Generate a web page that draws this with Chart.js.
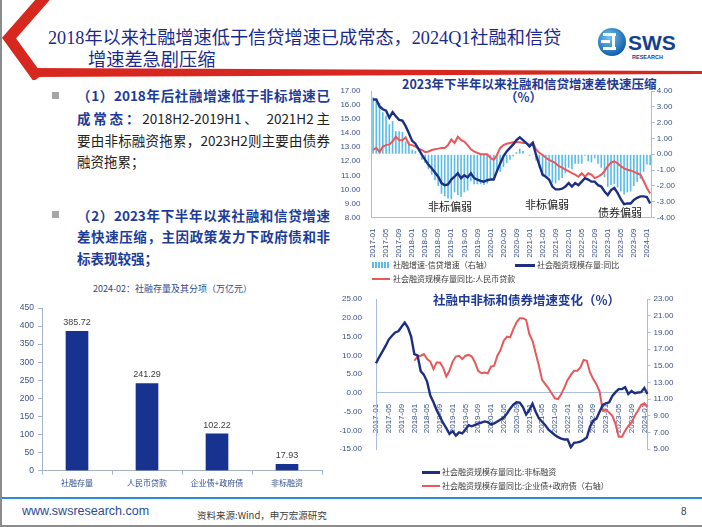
<!DOCTYPE html>
<html lang="zh-CN">
<head>
<meta charset="utf-8">
<title>社融与信贷增速差</title>
<script src="https://cdn.jsdelivr.net/npm/chart.js@4.4.1/dist/chart.umd.min.js"></script>
<style>
  html, body { margin: 0; padding: 0; background: #fff; }
  #slide { position: relative; width: 702px; height: 527px; overflow: hidden; background: #fff;
    font-family: "Noto Sans CJK SC", "Liberation Sans", sans-serif; }
  .abs { position: absolute; white-space: nowrap; }
  canvas { position: absolute; }
  .title { font-family: "Liberation Serif", "Noto Sans CJK SC", serif; font-size: 18.2px; line-height: 22px; color: #1b2a8a; }
  .line { position: absolute; left: 77px; width: 253px; font-size: 13.5px; line-height: 22px; color: #222;
    text-align: justify; text-align-last: justify; }
  .line.last { text-align-last: left; }
  .b { color: #1d3c98; font-weight: bold; }
  .bullet { position: absolute; left: 52px; width: 7px; height: 7px; background: #a6a6a6; }
  .ctitle { font-weight: bold; color: #1f3a93; font-size: 12.5px; line-height: 14px; }
  .leg { font-size: 8px; line-height: 10px; color: #3a3a3a; }
  .swatch { position: absolute; }
  .note { font-size: 11px; line-height: 12px; color: #1a1a1a; }
</style>
</head>
<body>
<div id="slide">
  <!-- header decoration -->
  <svg class="abs" style="left:0;top:0" width="702" height="80">
    <polyline points="46,-4 9,38 38,78" fill="none" stroke="#d7281f" stroke-width="11"/>
    <polygon points="30,68 702,71 702,74 30,77" fill="#d7281f"/>
    <defs>
      <radialGradient id="lg" cx="40%" cy="35%" r="70%">
        <stop offset="0%" stop-color="#6fc6f2"/>
        <stop offset="100%" stop-color="#0b56a8"/>
      </radialGradient>
    </defs>
    <circle cx="612" cy="42" r="14" fill="url(#lg)"/>
    <rect x="603" y="33" width="13" height="3" fill="#fff"/>
    <rect x="601" y="40" width="9" height="3" fill="#fff"/>
    <rect x="603" y="47" width="13" height="3" fill="#fff"/>
    <rect x="612" y="36" width="3" height="11" fill="#fff"/>
    <text x="628" y="50" font-family="Liberation Sans, sans-serif" font-weight="bold" font-size="21" fill="#15408f">SWS</text>
    <text x="632" y="59" font-family="Liberation Sans, sans-serif" font-weight="bold" font-size="5.5" fill="#15408f">RESEARCH</text>
  </svg>

  <div class="abs title" style="left:48px;top:27px;">2018年以来社融增速低于信贷增速已成常态，2024Q1社融和信贷</div>
  <div class="abs title" style="left:88px;top:49px;">增速差急剧压缩</div>

  <!-- bullets -->
  <div class="bullet" style="top:92px;"></div>
  <div class="line" style="top:84px;"><span class="b">（1）2018年后社融增速低于非标增速已</span></div>
  <div class="line" style="top:107px;"><span class="b">成常态：</span>2018H2-2019H1、 2021H2主</div>
  <div class="line" style="top:129px;">要由非标融资拖累，2023H2则主要由债券</div>
  <div class="line last" style="top:150px;">融资拖累；</div>
  <div class="bullet" style="top:211px;"></div>
  <div class="line b" style="top:204px;">（2）2023年下半年以来社融和信贷增速</div>
  <div class="line b" style="top:225px;">差快速压缩，主因政策发力下政府债和非</div>
  <div class="line b last" style="top:247px;">标表现较强；</div>

  <!-- bar chart -->
  <div class="abs" style="left:93px;top:283px;font-size:9px;line-height:12px;color:#2c4c8c;">2024-02：社融存量及其分项（万亿元）</div>
  <canvas id="barChart" width="335" height="200" style="left:0;top:295px;"></canvas>

  <!-- top right chart -->
  <div class="abs ctitle" style="left:402px;top:77px;">2023年下半年以来社融和信贷增速差快速压缩</div>
  <div class="abs ctitle" style="left:505px;top:90px;">（%）</div>
  <canvas id="gapChart" width="362" height="180" style="left:340px;top:80px;"></canvas>
  <div class="abs note" style="left:428px;top:200px;">非标偏弱</div>
  <div class="abs note" style="left:525px;top:198px;">非标偏弱</div>
  <div class="abs note" style="left:598px;top:206px;">债券偏弱</div>
  <div class="swatch" style="left:372px;top:262px;width:18px;height:6px;background:repeating-linear-gradient(90deg,#5bbde8 0 1.5px,#fff 1.5px 3px);"></div>
  <div class="abs leg" style="left:393px;top:260px;">社融增速-信贷增速（右轴）</div>
  <div class="swatch" style="left:515px;top:264px;width:20px;height:2.5px;background:#1c2f80;"></div>
  <div class="abs leg" style="left:537px;top:260px;">社会融资规模存量:同比</div>
  <div class="swatch" style="left:372px;top:278px;width:18px;height:2px;background:#e8585a;"></div>
  <div class="abs leg" style="left:393px;top:274px;">社会融资规模存量同比:人民币贷款</div>

  <!-- bottom right chart -->
  <div class="abs ctitle" style="left:433px;top:293px;">社融中非标和债券增速变化（%）</div>
  <canvas id="bondChart" width="362" height="172" style="left:340px;top:288px;"></canvas>
  <div class="swatch" style="left:422px;top:471px;width:18px;height:2.5px;background:#1c2f80;"></div>
  <div class="abs leg" style="left:442px;top:467px;">社会融资规模存量同比:非标融资</div>
  <div class="swatch" style="left:422px;top:485px;width:18px;height:2px;background:#e8585a;"></div>
  <div class="abs leg" style="left:442px;top:481px;">社会融资规模存量同比:企业债+政府债（右轴）</div>

  <!-- footer -->
  <div class="abs" style="left:0;top:497px;width:702px;height:2px;background:#2a8fd0;"></div>
  <div class="abs" style="left:22px;top:503px;font-family:'Liberation Sans',sans-serif;font-size:12.5px;line-height:16px;color:#2a4b9b;">www.swsresearch.com</div>
  <div class="abs" style="left:197px;top:509px;font-size:9.5px;line-height:12px;color:#404040;">资料来源:Wind，申万宏源研究</div>
  <div class="abs" style="left:681px;top:506px;font-family:'Liberation Sans',sans-serif;font-size:10px;line-height:12px;color:#404040;">8</div>
  <div class="abs" style="left:0;top:0;width:2px;height:527px;background:#8c8c8c;"></div>
  <div class="abs" style="left:0;top:525px;width:702px;height:2px;background:#8c8c8c;"></div>
</div>

<script>
// ---- data ----
const barCats = ['社融存量', '人民币贷款', '企业债+政府债', '非标融资'];
const barVals = [385.72, 241.29, 102.22, 17.93];

// monthly categories 2017-01 .. 2024-02
const months = [];
for (let y = 2017; y <= 2024; y++) {
  for (let m = 1; m <= 12; m++) {
    if (y === 2024 && m > 2) break;
    months.push(y + '-' + String(m).padStart(2, '0'));
  }
}

// 社会融资规模存量:同比 (left axis)
const tsfYoy = [
  16.4, 16.4, 15.9, 15.7, 15.6, 15.1, 15.5, 15.2, 14.95, 14.9, 14.5, 14.0,
  13.45, 13.25, 12.85, 12.45, 12.1, 11.75, 11.5, 11.2, 10.9, 10.45, 10.3, 10.35,
  10.7, 10.9, 11.15, 10.8, 11.0, 10.85, 11.15, 10.8, 10.7, 10.6, 10.55, 10.65,
  10.7, 10.7, 11.3, 11.85, 12.35, 12.7, 12.95, 13.2, 13.5, 13.7, 13.5, 13.3,
  13.05, 13.3, 12.45, 11.75, 11.05, 10.9, 10.7, 10.2, 10.0, 10.0, 10.05, 10.2,
  10.45, 10.2, 10.45, 10.3, 10.55, 10.8, 10.7, 10.55, 10.55, 10.3, 10.2, 9.85,
  9.6, 9.95, 10.1, 9.75, 9.3, 8.95, 9.0, 9.0, 9.25, 9.4, 9.5, 9.5,
  9.45, 9.0
];
// 社会融资规模存量同比:人民币贷款 (left axis)
const loanYoy = [
  12.8, 12.95, 12.65, 13.05, 13.15, 13.2, 13.4, 13.75, 13.5, 13.5, 13.7, 13.2,
  13.15, 13.05, 12.9, 12.8, 12.65, 12.7, 12.8, 12.85, 12.9, 12.95, 12.95, 13.15,
  13.55, 13.3, 13.75, 13.5, 13.4, 13.15, 12.85, 12.7, 12.6, 12.5, 12.5, 12.5,
  12.25, 12.1, 12.45, 12.95, 13.15, 13.25, 13.3, 13.35, 13.35, 13.35, 13.3, 13.3,
  13.15, 13.35, 12.85, 12.6, 12.45, 12.25, 12.1, 12.0, 11.85, 11.65, 11.55, 11.4,
  11.3, 11.15, 11.05, 10.9, 11.15, 10.9, 11.15, 11.05, 10.8, 10.9, 11.05, 11.3,
  11.65, 11.9, 12.0, 11.85, 11.65, 11.5, 11.4, 11.35, 11.25, 11.15, 11.05, 10.6,
  10.1, 9.7
];
// 社融增速-信贷增速 (right axis)
const gapVals = [
  3.6, 3.45, 3.25, 2.65, 2.45, 1.9, 2.1, 1.45, 1.45, 1.4, 0.8, 0.8,
  0.3, 0.2, -0.05, -0.35, -0.55, -0.95, -1.3, -1.65, -2.0, -2.5, -2.65, -2.8,
  -2.85, -2.4, -2.6, -2.7, -2.4, -2.3, -1.7, -1.9, -1.9, -1.9, -1.95, -1.85,
  -1.55, -1.4, -1.15, -1.1, -0.8, -0.55, -0.35, -0.15, 0.15, 0.35, 0.2, 0.0,
  -0.1, -0.05, -0.4, -0.85, -1.4, -1.35, -1.4, -1.8, -1.85, -1.65, -1.5, -1.2,
  -0.85, -0.95, -0.6, -0.6, -0.6, -0.1, -0.45, -0.5, -0.25, -0.6, -0.85, -1.45,
  -2.05, -1.95, -1.9, -2.1, -2.35, -2.55, -2.4, -2.35, -2.0, -1.75, -1.55, -1.1,
  -0.65, -0.7
];

// 社会融资规模存量同比:非标融资 (left axis)
const nonStdYoy = [
  7.9, 9.5, 11.0, 12.5, 14.2, 15.2, 16.1, 16.4, 17.6, 18.7, 17.4, 15.0,
  10.3, 10.0, 5.8, 4.8, 3.0, -0.7, -2.5, -4.6, -6.3, -8.0, -9.4, -10.9,
  -10.2, -11.4, -10.5, -10.8, -9.8, -8.6, -8.9, -8.5, -8.2, -7.9, -7.6, -7.8,
  -8.4, -8.1, -7.6, -7.1, -6.6, -5.5, -4.2, -3.1, -2.5, -2.6, -3.8, -5.8,
  -4.6, -2.9, -5.0, -6.8, -7.7, -8.6, -9.8, -10.5, -11.2, -11.8, -12.2, -12.4,
  -12.4, -14.5, -13.3, -13.2, -13.0, -12.5, -11.9, -9.0, -7.4, -6.9, -5.0, -3.2,
  -2.8, -2.5, -0.8, 0.2, 1.0, 1.0, 1.5, -0.3, 0.5, -0.1, 0.1, 0.2,
  1.3, -0.3
];
// 社会融资规模存量同比:企业债+政府债 (right axis), from 2018-01
const bondYoy = [
  null, null, null, null, null, null, null, null, null, null, null, null,
  15.6, 16.1, 16.2, 16.4, 15.8, 15.5, 14.6, 15.4, 15.4, 14.8, 13.7, 14.4,
  15.5, 16.1, 16.2, 15.8, 16.2, 16.3, 16.1, 15.4, 14.4, 14.1, 14.2, 14.1,
  14.9, 15.0, 16.2, 16.9, 18.0, 18.5, 18.4, 19.4, 20.2, 20.7, 20.7, 20.5,
  18.8, 18.0, 16.5, 15.0, 13.3, 12.8, 12.3, 11.7, 11.1, 11.0, 11.6, 12.4,
  13.3, 13.9, 14.4, 14.4, 14.8, 15.7, 15.6, 14.2, 13.4, 12.8, 11.9, 9.6,
  9.7, 9.4, 9.0, 8.0, 6.5, 6.5, 7.2, 7.8, 8.2, 9.0, 9.6, 10.3,
  10.5, 10.1
];

// ---- styles ----
const NAVY = '#1c2f80';
const RED = '#e8585a';
const CYAN = '#5bbde8';
const BAR = '#17328f';
const AXIS = '#a9bedc';
const TICK = '#3b5284';
const tickFont = { family: 'Liberation Sans, sans-serif', size: 8 };

// bar value labels
const barValueLabels = {
  id: 'barValueLabels',
  afterDatasetsDraw(chart) {
    const ctx = chart.ctx;
    ctx.save();
    ctx.font = '9px "Liberation Sans", sans-serif';
    ctx.fillStyle = '#404040';
    ctx.textAlign = 'center';
    ctx.textBaseline = 'bottom';
    chart.getDatasetMeta(0).data.forEach((bar, i) => {
      ctx.fillText(barVals[i].toFixed(2), bar.x, bar.y - 4);
    });
    ctx.restore();
  }
};

new Chart(document.getElementById('barChart'), {
  type: 'bar',
  data: {
    labels: barCats,
    datasets: [{ data: barVals, backgroundColor: BAR, barThickness: 22 }]
  },
  options: {
    responsive: false,
    animation: false,
    layout: { padding: { top: 13, right: 13 } },
    plugins: { legend: { display: false }, tooltip: { enabled: false } },
    scales: {
      x: {
        grid: { drawOnChartArea: false, tickLength: 4, color: '#a6b2c8' },
        border: { color: '#a6b2c8' },
        ticks: { color: '#2f4f8f', font: { size: 8, family: 'Noto Sans CJK SC' }, padding: 3 },
        afterFit(s) { s.height = 24.3; }
      },
      y: {
        min: 0, max: 450,
        grid: { drawOnChartArea: false, tickLength: 4, color: '#a6b2c8' },
        border: { color: '#a6b2c8' },
        ticks: { stepSize: 50, color: TICK, font: { family: 'Liberation Sans, sans-serif', size: 8.5 }, padding: 4 },
        afterFit(s) { s.width = 42; }
      }
    }
  },
  plugins: [barValueLabels]
});

new Chart(document.getElementById('gapChart'), {
  type: 'bar',
  data: {
    labels: months,
    datasets: [
      { type: 'line', label: '社会融资规模存量:同比', data: tsfYoy, borderColor: NAVY, borderWidth: 2.4,
        pointRadius: 0, yAxisID: 'y', order: 1 },
      { type: 'line', label: '社会融资规模存量同比:人民币贷款', data: loanYoy, borderColor: RED, borderWidth: 2,
        pointRadius: 0, yAxisID: 'y', order: 2 },
      { type: 'bar', label: '社融增速-信贷增速（右轴）', data: gapVals, backgroundColor: CYAN,
        yAxisID: 'y1', order: 3, barPercentage: 0.5, categoryPercentage: 1 }
    ]
  },
  options: {
    responsive: false,
    animation: false,
    layout: { padding: { top: 11 } },
    plugins: { legend: { display: false }, tooltip: { enabled: false } },
    scales: {
      x: {
        grid: { display: false },
        border: { color: AXIS },
        ticks: {
          autoSkip: false, minRotation: 90, maxRotation: 90, padding: 3,
          color: TICK, font: tickFont,
          callback(v, i) { return i % 4 === 0 ? months[i] : ''; }
        },
        afterFit(s) { s.height = 42.5; }
      },
      y: {
        position: 'left', min: 8, max: 17,
        grid: { display: false },
        border: { color: AXIS },
        ticks: { stepSize: 1, color: TICK, font: tickFont, padding: 3, callback: v => v.toFixed(2) },
        afterFit(s) { s.width = 31.4; }
      },
      y1: {
        position: 'right', min: -4, max: 4,
        grid: { drawOnChartArea: false, tickLength: 3, color: AXIS },
        border: { color: AXIS },
        ticks: { stepSize: 1, color: TICK, font: tickFont, padding: 2, callback: v => v.toFixed(2) },
        afterFit(s) { s.width = 50.2; }
      }
    }
  }
});

new Chart(document.getElementById('bondChart'), {
  type: 'line',
  data: {
    labels: months,
    datasets: [
      { label: '社会融资规模存量同比:非标融资', data: nonStdYoy, borderColor: NAVY, borderWidth: 2.4,
        pointRadius: 0, yAxisID: 'y', order: 1 },
      { label: '社会融资规模存量同比:企业债+政府债（右轴）', data: bondYoy, borderColor: RED, borderWidth: 2,
        pointRadius: 0, yAxisID: 'y1', order: 2 }
    ]
  },
  options: {
    responsive: false,
    animation: false,
    layout: { padding: { top: 11, bottom: 6 } },
    plugins: { legend: { display: false }, tooltip: { enabled: false } },
    scales: {
      x: {
        position: { y: 0 },
        grid: { display: false },
        border: { color: AXIS },
        ticks: {
          autoSkip: false, minRotation: 90, maxRotation: 90, padding: 3,
          color: TICK, font: tickFont,
          callback(v, i) { return i % 4 === 0 ? months[i] : ''; }
        }
      },
      y: {
        position: 'left', min: -15, max: 25,
        grid: { display: false },
        border: { color: AXIS },
        ticks: { stepSize: 5, color: TICK, font: tickFont, padding: 6, callback: v => v.toFixed(2) },
        afterFit(s) { s.width = 36; }
      },
      y1: {
        position: 'right', min: 5, max: 23,
        grid: { drawOnChartArea: false, tickLength: 3, color: AXIS },
        border: { color: AXIS },
        ticks: { stepSize: 2, color: TICK, font: tickFont, padding: 3, callback: v => v.toFixed(2) },
        afterFit(s) { s.width = 54.5; }
      }
    }
  }
});
</script>
</body>
</html>
